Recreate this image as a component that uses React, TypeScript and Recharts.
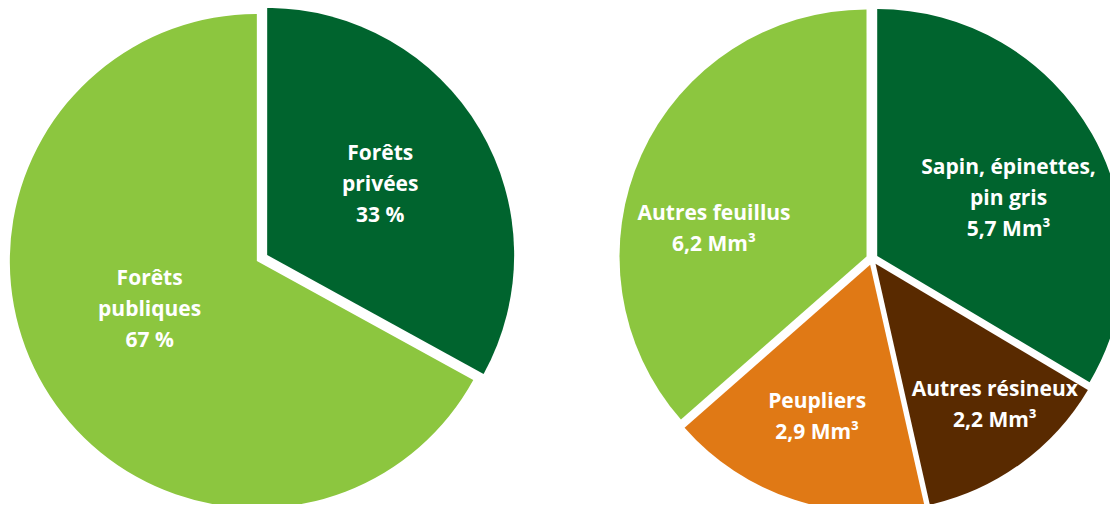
import { PieChart, Pie, Cell } from "recharts";

// Ownership split (left pie), in %
const ownershipNames = [["Forêts", "privées"], ["Forêts", "publiques"]];
const ownershipValues = [33, 67];

// Volume by species group (right pie), in Mm³
const speciesNames = [["Sapin, épinettes,", "pin gris"], ["Autres résineux"], ["Peupliers"], ["Autres feuillus"]];
const speciesValues = [5.7, 2.2, 2.9, 6.2];

const LIGHT = "#8cc63f";
const DARK = "#00642e";
const ORANGE = "#e07915";
const BROWN = "#592a00";

const ownershipColors = [DARK, LIGHT];
const speciesColors = [DARK, BROWN, ORANGE, LIGHT];

// label placement: radius + angle tweak (deg, clockwise) relative to slice middle
const ownershipLabelPos = [{ r: 140, da: -1.8 }, { r: 123, da: 6.6 }];
const speciesLabelPos = [{ r: 150, da: 5.2 }, { r: 190, da: -4.3 }, { r: 166, da: 1.3 }, { r: 161, da: -13.2 }];

const EXPLODE = 6;
const FONT = "'Open Sans', 'Noto Sans', sans-serif";

// offset each slice outward along its middle angle (clockwise from 12 o'clock)
function explode(values: number[], i: number) {
  const total = values.reduce((a, b) => a + b, 0);
  const before = values.slice(0, i).reduce((a, b) => a + b, 0);
  const mid = ((before + values[i] / 2) / total) * 2 * Math.PI;
  return `translate(${(EXPLODE * Math.sin(mid)).toFixed(2)},${(-EXPLODE * Math.cos(mid)).toFixed(2)})`;
}

const fmt = (v: number) => String(v).replace(".", ",");

function makeLabel(names: string[][], pos: { r: number; da: number }[], valueText: (i: number) => string) {
  return (props: any) => {
    const { cx, cy, midAngle, index } = props;
    // recharts midAngle: ccw from 3 o'clock
    const a = ((midAngle - pos[index].da) * Math.PI) / 180;
    const x = cx + pos[index].r * Math.cos(a);
    const y = cy - pos[index].r * Math.sin(a);
    const lines = [...names[index], valueText(index)];
    const gap = 31;
    const y0 = y - ((lines.length - 1) * gap) / 2;
    return (
      <text x={x} y={y0} fill="#fff" textAnchor="middle" dominantBaseline="central"
        style={{ fontFamily: FONT, fontWeight: 700, fontSize: 21 }}>
        {lines.map((l, k) => (
          <tspan key={k} x={x} y={y0 + k * gap}>{l}</tspan>
        ))}
      </text>
    );
  };
}

export default function App() {
  const ownershipData = ownershipValues.map((v, i) => ({ name: ownershipNames[i].join(" "), value: v }));
  const speciesData = speciesValues.map((v, i) => ({ name: speciesNames[i].join(" "), value: v }));
  return (
    <div style={{ margin: -8, width: 1118, height: 512, background: "#fff", overflow: "hidden" }}>
      <PieChart width={1118} height={512} margin={{ top: 0, right: 0, bottom: 0, left: 0 }}>
        <Pie data={ownershipData} dataKey="value" cx={262} cy={258} outerRadius={247}
          startAngle={90} endAngle={-270} stroke="none" isAnimationActive={false}
          labelLine={false} label={makeLabel(ownershipNames, ownershipLabelPos, (i) => `${ownershipValues[i]} %`)}>
          {ownershipData.map((_, i) => (
            <Cell key={i} fill={ownershipColors[i]} transform={explode(ownershipValues, i)} />
          ))}
        </Pie>
        <Pie data={speciesData} dataKey="value" cx={872} cy={259} outerRadius={247}
          startAngle={90} endAngle={-270} stroke="none" isAnimationActive={false}
          labelLine={false} label={makeLabel(speciesNames, speciesLabelPos, (i) => `${fmt(speciesValues[i])} Mm³`)}>
          {speciesData.map((_, i) => (
            <Cell key={i} fill={speciesColors[i]} transform={explode(speciesValues, i)} />
          ))}
        </Pie>
      </PieChart>
    </div>
  );
}
